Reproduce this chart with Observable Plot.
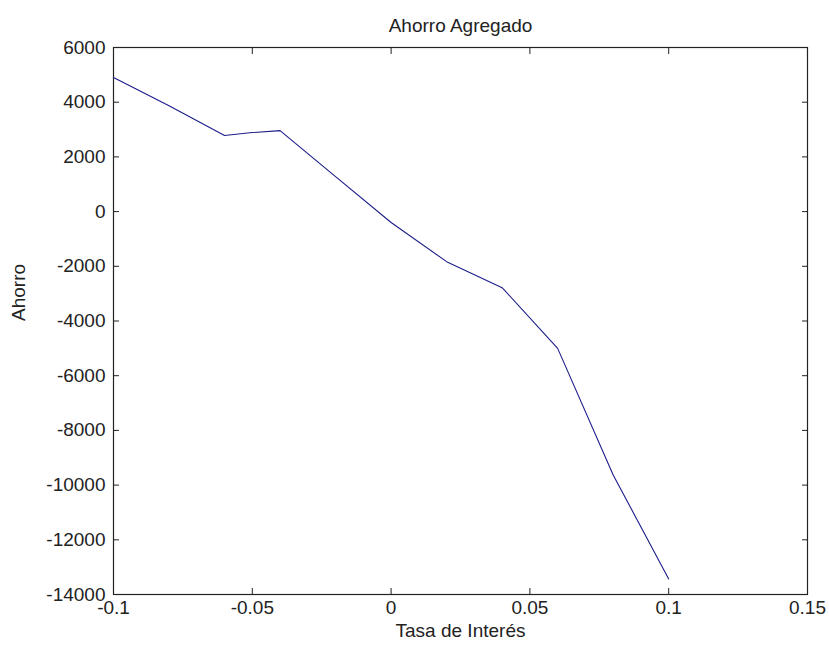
<!DOCTYPE html>
<html>
<head>
<meta charset="utf-8">
<script src="https://cdn.jsdelivr.net/npm/d3@7"></script>
<script src="https://cdn.jsdelivr.net/npm/@observablehq/plot@0.6"></script>
<style>
  html, body { margin: 0; padding: 0; background: #fff; }
  #chart { width: 829px; height: 647px; }
</style>
</head>
<body>
<div id="chart"></div>
<script>
const tasa = [-0.1, -0.08, -0.06, -0.05, -0.04, -0.02, 0, 0.02, 0.04, 0.06, 0.08, 0.1];
const ahorro = [4900, 3870, 2780, 2890, 2960, 1280, -400, -1830, -2780, -5000, -9630, -13430];
const xTicks = [-0.1, -0.05, 0, 0.05, 0.1, 0.15];
const yTicks = [-14000, -12000, -10000, -8000, -6000, -4000, -2000, 0, 2000, 4000, 6000];
const title = "Ahorro Agregado";
const xLabel = "Tasa de Interés";
const yLabel = "Ahorro";

const data = tasa.map((t, i) => ({tasa: t, ahorro: ahorro[i]}));
const fmt = d => String(d);
const none = () => "";
const axisColor = "#222";

const chart = Plot.plot({
  width: 829,
  height: 647,
  marginLeft: 113,
  marginRight: 22,
  marginTop: 47,
  marginBottom: 53,
  style: {fontSize: "19px", fontFamily: "Liberation Sans, Arial, sans-serif", color: "#222", background: "#fff"},
  x: {domain: [-0.1, 0.15], axis: null},
  y: {domain: [-14000, 6000], axis: null},
  marks: [
    Plot.frame({stroke: axisColor, strokeWidth: 1.2}),
    Plot.axisX(xTicks, {anchor: "bottom", tickSize: 0, tickPadding: 6, tickFormat: fmt, label: null, fill: "#222"}),
    Plot.axisX(xTicks, {anchor: "bottom", tickSize: -6, tickFormat: none, label: null, stroke: axisColor}),
    Plot.axisX(xTicks, {anchor: "top", tickSize: -6, tickFormat: none, label: null, stroke: axisColor}),
    Plot.axisY(yTicks, {anchor: "left", tickSize: 0, tickPadding: 8, tickFormat: fmt, label: null, fill: "#222"}),
    Plot.axisY(yTicks, {anchor: "left", tickSize: -6, tickFormat: none, label: null, stroke: axisColor}),
    Plot.axisY(yTicks, {anchor: "right", tickSize: -6, tickFormat: none, label: null, stroke: axisColor}),
    Plot.line(data, {x: "tasa", y: "ahorro", stroke: "#1c1c8a", strokeWidth: 1.1}),
    Plot.text([title], {frameAnchor: "top", dy: -22, fill: "#222", lineAnchor: "middle"}),
    Plot.text([xLabel], {frameAnchor: "bottom", dy: 36, fill: "#222", lineAnchor: "middle"}),
    Plot.text([yLabel], {frameAnchor: "left", dx: -95, rotate: -90, fill: "#222", lineAnchor: "middle"})
  ]
});
document.getElementById("chart").appendChild(chart);
</script>
</body>
</html>
